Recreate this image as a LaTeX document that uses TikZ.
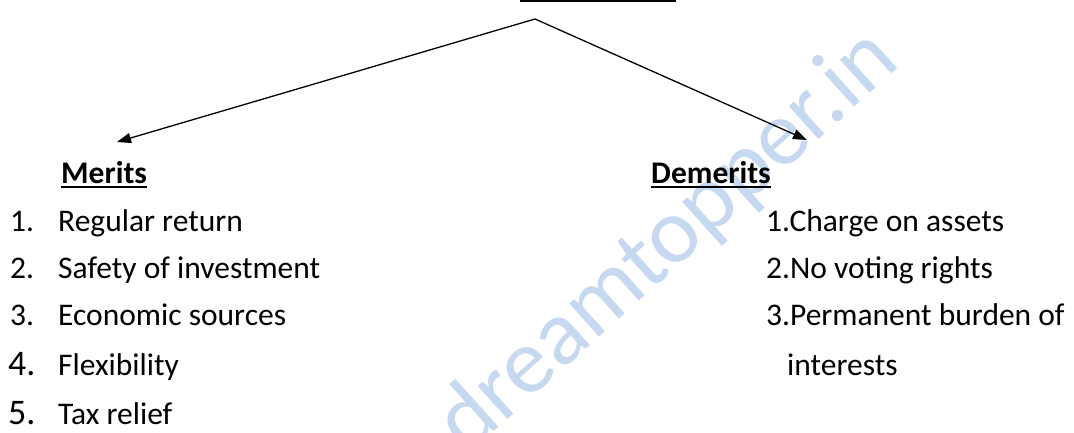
\documentclass[tikz,border=0pt]{standalone}
\usepackage{fontspec}
\setmainfont{Carlito}
\usetikzlibrary{arrows.meta}
\definecolor{wmblue}{RGB}{198,217,240}
\tikzset{
  txt/.style={anchor=base west, inner sep=0pt, font=\fontsize{31.5}{38}\selectfont},
  bignum/.style={anchor=base west, inner sep=0pt, font=\fontsize{36}{42}\selectfont},
  head/.style={anchor=base west, inner sep=0pt, font=\fontsize{31.5}{38}\selectfont\bfseries},
  conn/.style={line width=1.3pt, -{Triangle[length=14pt,width=10pt]}},
  uline/.style={line width=2.2pt},
  wmark/.style={inner sep=0pt, text=wmblue, rotate=42, font=\fontsize{93}{100}\selectfont}
}
\begin{document}
\begin{tikzpicture}[x=1pt,y=-1pt]
\useasboundingbox (0,0) rectangle (1074,432);
\fill[white] (0,0) rectangle (1074,432);
\node[wmark] (wm) at (668,242) {dreamtopper.in};
\fill (520,0) rectangle (676,2);
\coordinate (apex) at (535,19);
\coordinate (ltip) at (117,142);
\coordinate (rtip) at (807,140);
\draw[conn] (apex) -- (ltip);
\draw[conn] (apex) -- (rtip);
\node[head] (merits) at (61,183) {Merits};
\draw[uline] ([yshift=-4pt]merits.base west) -- ([yshift=-4pt]merits.base east);
\node[head] (demerits) at (651,183) {Demerits};
\draw[uline] ([yshift=-4pt]demerits.base west) -- ([yshift=-4pt]demerits.base east);
% left list
\node[txt] (n1) at (10,231) {1.};
\node[txt] (m1) at (58,231) {Regular return};
\node[txt] (n2) at (10,278) {2.};
\node[txt] (m2) at (58,278) {Safety of investment};
\node[txt] (n3) at (10,325) {3.};
\node[txt] (m3) at (58,325) {Economic sources};
\node[bignum] (n4) at (8,375) {4.};
\node[txt] (m4) at (58,375) {Flexibility};
\node[bignum] (n5) at (8,424) {5.};
\node[txt] (m5) at (58,424) {Tax relief};
% right list
\node[txt] (d1) at (766,231) {1.Charge on assets};
\node[txt] (d2) at (766,278) {2.No voting rights};
\node[txt] (d3) at (766,325) {3.Permanent burden of};
\node[txt] (d4) at (787,375) {interests};
\end{tikzpicture}
\end{document}
